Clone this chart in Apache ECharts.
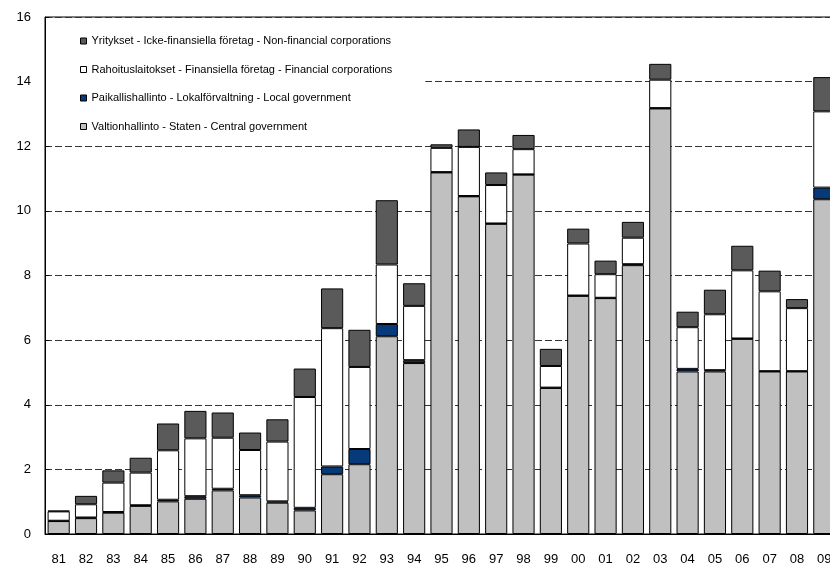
<!DOCTYPE html>
<html>
<head>
<meta charset="utf-8">
<script src="https://cdn.jsdelivr.net/npm/echarts@6/dist/echarts.min.js"></script>
<style>
  html, body { margin: 0; padding: 0; background: #fff; overflow: hidden; }
  /* a bit wider than the window: the 09 bar is cut at the right edge */
  #chart { width: 838px; height: 566px; }
</style>
</head>
<body>
<div id="chart"></div>
<script>
const years = ['81', '82', '83', '84', '85', '86', '87', '88', '89', '90', '91', '92', '93', '94', '95',
  '96', '97', '98', '99', '00', '01', '02', '03', '04', '05', '06', '07', '08', '09']
const central = [0.40, 0.49, 0.66, 0.87, 1.01, 1.09, 1.35, 1.13, 0.97, 0.73, 1.85, 2.16, 6.12, 5.29, 11.19,
  10.45, 9.60, 11.12, 4.52, 7.37, 7.30, 8.32, 13.17, 5.03, 5.03, 6.04, 5.03, 5.03, 10.36]
const local = [0.01, 0.02, 0.02, 0.02, 0.05, 0.08, 0.05, 0.07, 0.04, 0.08, 0.24, 0.47, 0.38, 0.09, 0.01,
  0.01, 0.01, 0.01, 0.01, 0.01, 0.01, 0.03, 0.01, 0.08, 0.04, 0.01, 0.01, 0.01, 0.36]
const financial = [0.29, 0.41, 0.91, 1.01, 1.53, 1.79, 1.58, 1.40, 1.85, 3.43, 4.28, 2.54, 1.84, 1.68, 0.75,
  1.52, 1.19, 0.78, 0.67, 1.61, 0.73, 0.82, 0.88, 1.29, 1.73, 2.11, 2.47, 1.95, 2.36]
const nonFinancial = [0.02, 0.26, 0.38, 0.46, 0.83, 0.85, 0.78, 0.54, 0.69, 0.88, 1.23, 1.15, 1.99, 0.70, 0.11,
  0.54, 0.39, 0.44, 0.53, 0.46, 0.42, 0.49, 0.49, 0.48, 0.76, 0.76, 0.64, 0.28, 1.06]
const yTicks = [0, 2, 4, 6, 8, 10, 12, 14, 16]

const names = {
  nonFinancial: 'Yritykset - Icke-finansiella företag - Non-financial corporations',
  financial: 'Rahoituslaitokset - Finansiella företag - Financial corporations',
  local: 'Paikallishallinto - Lokalförvaltning - Local government',
  central: 'Valtionhallinto - Staten - Central government'
}
const font = 'Arial, "Liberation Sans", sans-serif'

function barSeries(name, data, color) {
  return {
    name,
    type: 'bar',
    stack: 'total',
    barCategoryGap: '19%',
    data,
    itemStyle: { color, borderColor: '#000', borderWidth: 1 },
    emphasis: { disabled: true }
  }
}

const chart = echarts.init(document.getElementById('chart'))
chart.setOption({
  animation: false,
  textStyle: { fontFamily: font },
  grid: { left: 45, right: 0, top: 17, bottom: 28, show: true, borderColor: '#000', borderWidth: 1 },
  legend: {
    orient: 'vertical',
    left: 46,
    top: 18,
    padding: [17, 33, 10, 34],
    backgroundColor: '#fff',
    icon: 'rect',
    itemWidth: 6,
    itemHeight: 6,
    itemGap: 16.5,
    selectedMode: false,
    textStyle: { fontSize: 11, lineHeight: 12, color: '#000', fontFamily: font },
    itemStyle: { borderColor: '#000', borderWidth: 1 },
    data: [names.nonFinancial, names.financial, names.local, names.central]
  },
  xAxis: {
    type: 'category',
    data: years,
    axisLine: { lineStyle: { color: '#000', width: 1 } },
    axisTick: { show: false },
    axisLabel: { color: '#000', fontSize: 13, margin: 19, fontFamily: font }
  },
  yAxis: {
    type: 'value',
    min: yTicks[0],
    max: yTicks[yTicks.length - 1],
    interval: 2,
    axisLine: { show: true, lineStyle: { color: '#000', width: 1 } },
    axisTick: { show: true, inside: true, length: 4, lineStyle: { color: '#000' } },
    axisLabel: { color: '#000', fontSize: 13, margin: 14, fontFamily: font },
    splitLine: { show: true, lineStyle: { color: '#333', type: [7, 3], width: 1 } }
  },
  series: [
    barSeries(names.central, central, '#c0c0c0'),
    barSeries(names.local, local, '#063a7a'),
    barSeries(names.financial, financial, '#ffffff'),
    barSeries(names.nonFinancial, nonFinancial, '#5a5a5a')
  ]
})
</script>
</body>
</html>
